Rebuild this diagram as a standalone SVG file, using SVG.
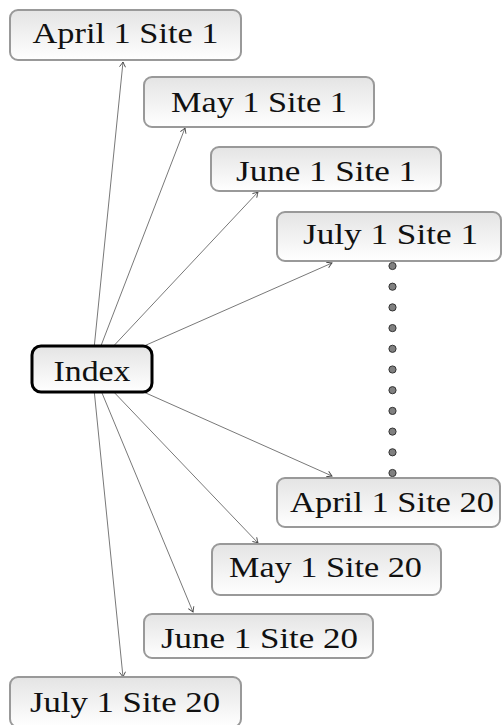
<svg xmlns="http://www.w3.org/2000/svg" width="502" height="725" viewBox="0 0 502 725">
<defs>
<linearGradient id="g" x1="0" y1="0" x2="0" y2="1">
<stop offset="0" stop-color="#e4e4e4"/>
<stop offset="1" stop-color="#ffffff"/>
</linearGradient>
<marker id="arr" viewBox="-6 -4 8 8" refX="0" refY="0" markerWidth="8" markerHeight="8" orient="auto" markerUnits="userSpaceOnUse">
<path d="M-5,-3 Q-1.5,-0.8 0,0 Q-1.5,0.8 -5,3" fill="none" stroke="#444" stroke-width="0.9"/>
</marker>
</defs>
<style>
.box{fill:url(#g);stroke:#999;stroke-width:2}
.idx{fill:url(#g);stroke:#000;stroke-width:3}
.t{font-size:30px;fill:#111;text-anchor:middle}
.c{stroke:#555;stroke-width:0.8;fill:none;marker-end:url(#arr)}
.dot{fill:#808080;stroke:#333;stroke-width:1}
</style>
<g id="connectors">
<line class="c" x1="94.3" y1="346" x2="123" y2="62"/>
<line class="c" x1="100.9" y1="346" x2="185" y2="128"/>
<line class="c" x1="113.6" y1="346" x2="258" y2="192"/>
<line class="c" x1="144" y1="346" x2="332" y2="263"/>
<line class="c" x1="143.6" y1="392" x2="332" y2="476"/>
<line class="c" x1="113.8" y1="392" x2="258" y2="543"/>
<line class="c" x1="101.6" y1="392" x2="193" y2="612"/>
<line class="c" x1="94.3" y1="392" x2="123" y2="677"/>
</g>
<g id="dots">
<circle class="dot" cx="392.5" cy="266" r="3.6"/>
<circle class="dot" cx="392.5" cy="286.7" r="3.6"/>
<circle class="dot" cx="392.5" cy="307.4" r="3.6"/>
<circle class="dot" cx="392.5" cy="328.1" r="3.6"/>
<circle class="dot" cx="392.5" cy="348.8" r="3.6"/>
<circle class="dot" cx="392.5" cy="369.5" r="3.6"/>
<circle class="dot" cx="392.5" cy="390.2" r="3.6"/>
<circle class="dot" cx="392.5" cy="410.9" r="3.6"/>
<circle class="dot" cx="392.5" cy="431.6" r="3.6"/>
<circle class="dot" cx="392.5" cy="452.3" r="3.6"/>
<circle class="dot" cx="392.5" cy="473" r="3.6"/>
</g>
<g id="index">
<rect class="idx" x="32" y="346" width="120" height="46" rx="9"/>
<text class="t" font-family="Liberation Serif, DejaVu Serif, serif" x="92" y="381" textLength="77" lengthAdjust="spacingAndGlyphs">Index</text>
</g>
<g id="april1site1">
<rect class="box" x="10" y="10" width="231" height="50" rx="8"/>
<text class="t" font-family="Liberation Serif, DejaVu Serif, serif" x="125.5" y="43" textLength="186" lengthAdjust="spacingAndGlyphs">April 1 Site 1</text>
</g>
<g id="may1site1">
<rect class="box" x="144" y="77" width="230" height="50" rx="8"/>
<text class="t" font-family="Liberation Serif, DejaVu Serif, serif" x="259" y="112" textLength="176" lengthAdjust="spacingAndGlyphs">May 1 Site 1</text>
</g>
<g id="june1site1">
<rect class="box" x="211" y="147" width="230" height="44" rx="8"/>
<text class="t" font-family="Liberation Serif, DejaVu Serif, serif" x="326" y="181" textLength="180" lengthAdjust="spacingAndGlyphs">June 1 Site 1</text>
</g>
<g id="july1site1">
<rect class="box" x="277" y="212" width="224" height="49" rx="8"/>
<text class="t" font-family="Liberation Serif, DejaVu Serif, serif" x="390.5" y="244" textLength="175" lengthAdjust="spacingAndGlyphs">July 1 Site 1</text>
</g>
<g id="april1site20">
<rect class="box" x="277" y="478" width="223" height="49" rx="8"/>
<text class="t" font-family="Liberation Serif, DejaVu Serif, serif" x="392" y="512" textLength="204" lengthAdjust="spacingAndGlyphs">April 1 Site 20</text>
</g>
<g id="may1site20">
<rect class="box" x="212" y="544" width="229" height="51" rx="8"/>
<text class="t" font-family="Liberation Serif, DejaVu Serif, serif" x="325.5" y="577" textLength="193" lengthAdjust="spacingAndGlyphs">May 1 Site 20</text>
</g>
<g id="june1site20">
<rect class="box" x="144" y="614" width="229" height="44" rx="8"/>
<text class="t" font-family="Liberation Serif, DejaVu Serif, serif" x="259.5" y="648" textLength="197" lengthAdjust="spacingAndGlyphs">June 1 Site 20</text>
</g>
<g id="july1site20">
<rect class="box" x="10" y="677" width="231" height="50" rx="8"/>
<text class="t" font-family="Liberation Serif, DejaVu Serif, serif" x="125" y="712" textLength="190" lengthAdjust="spacingAndGlyphs">July 1 Site 20</text>
</g>
</svg>
